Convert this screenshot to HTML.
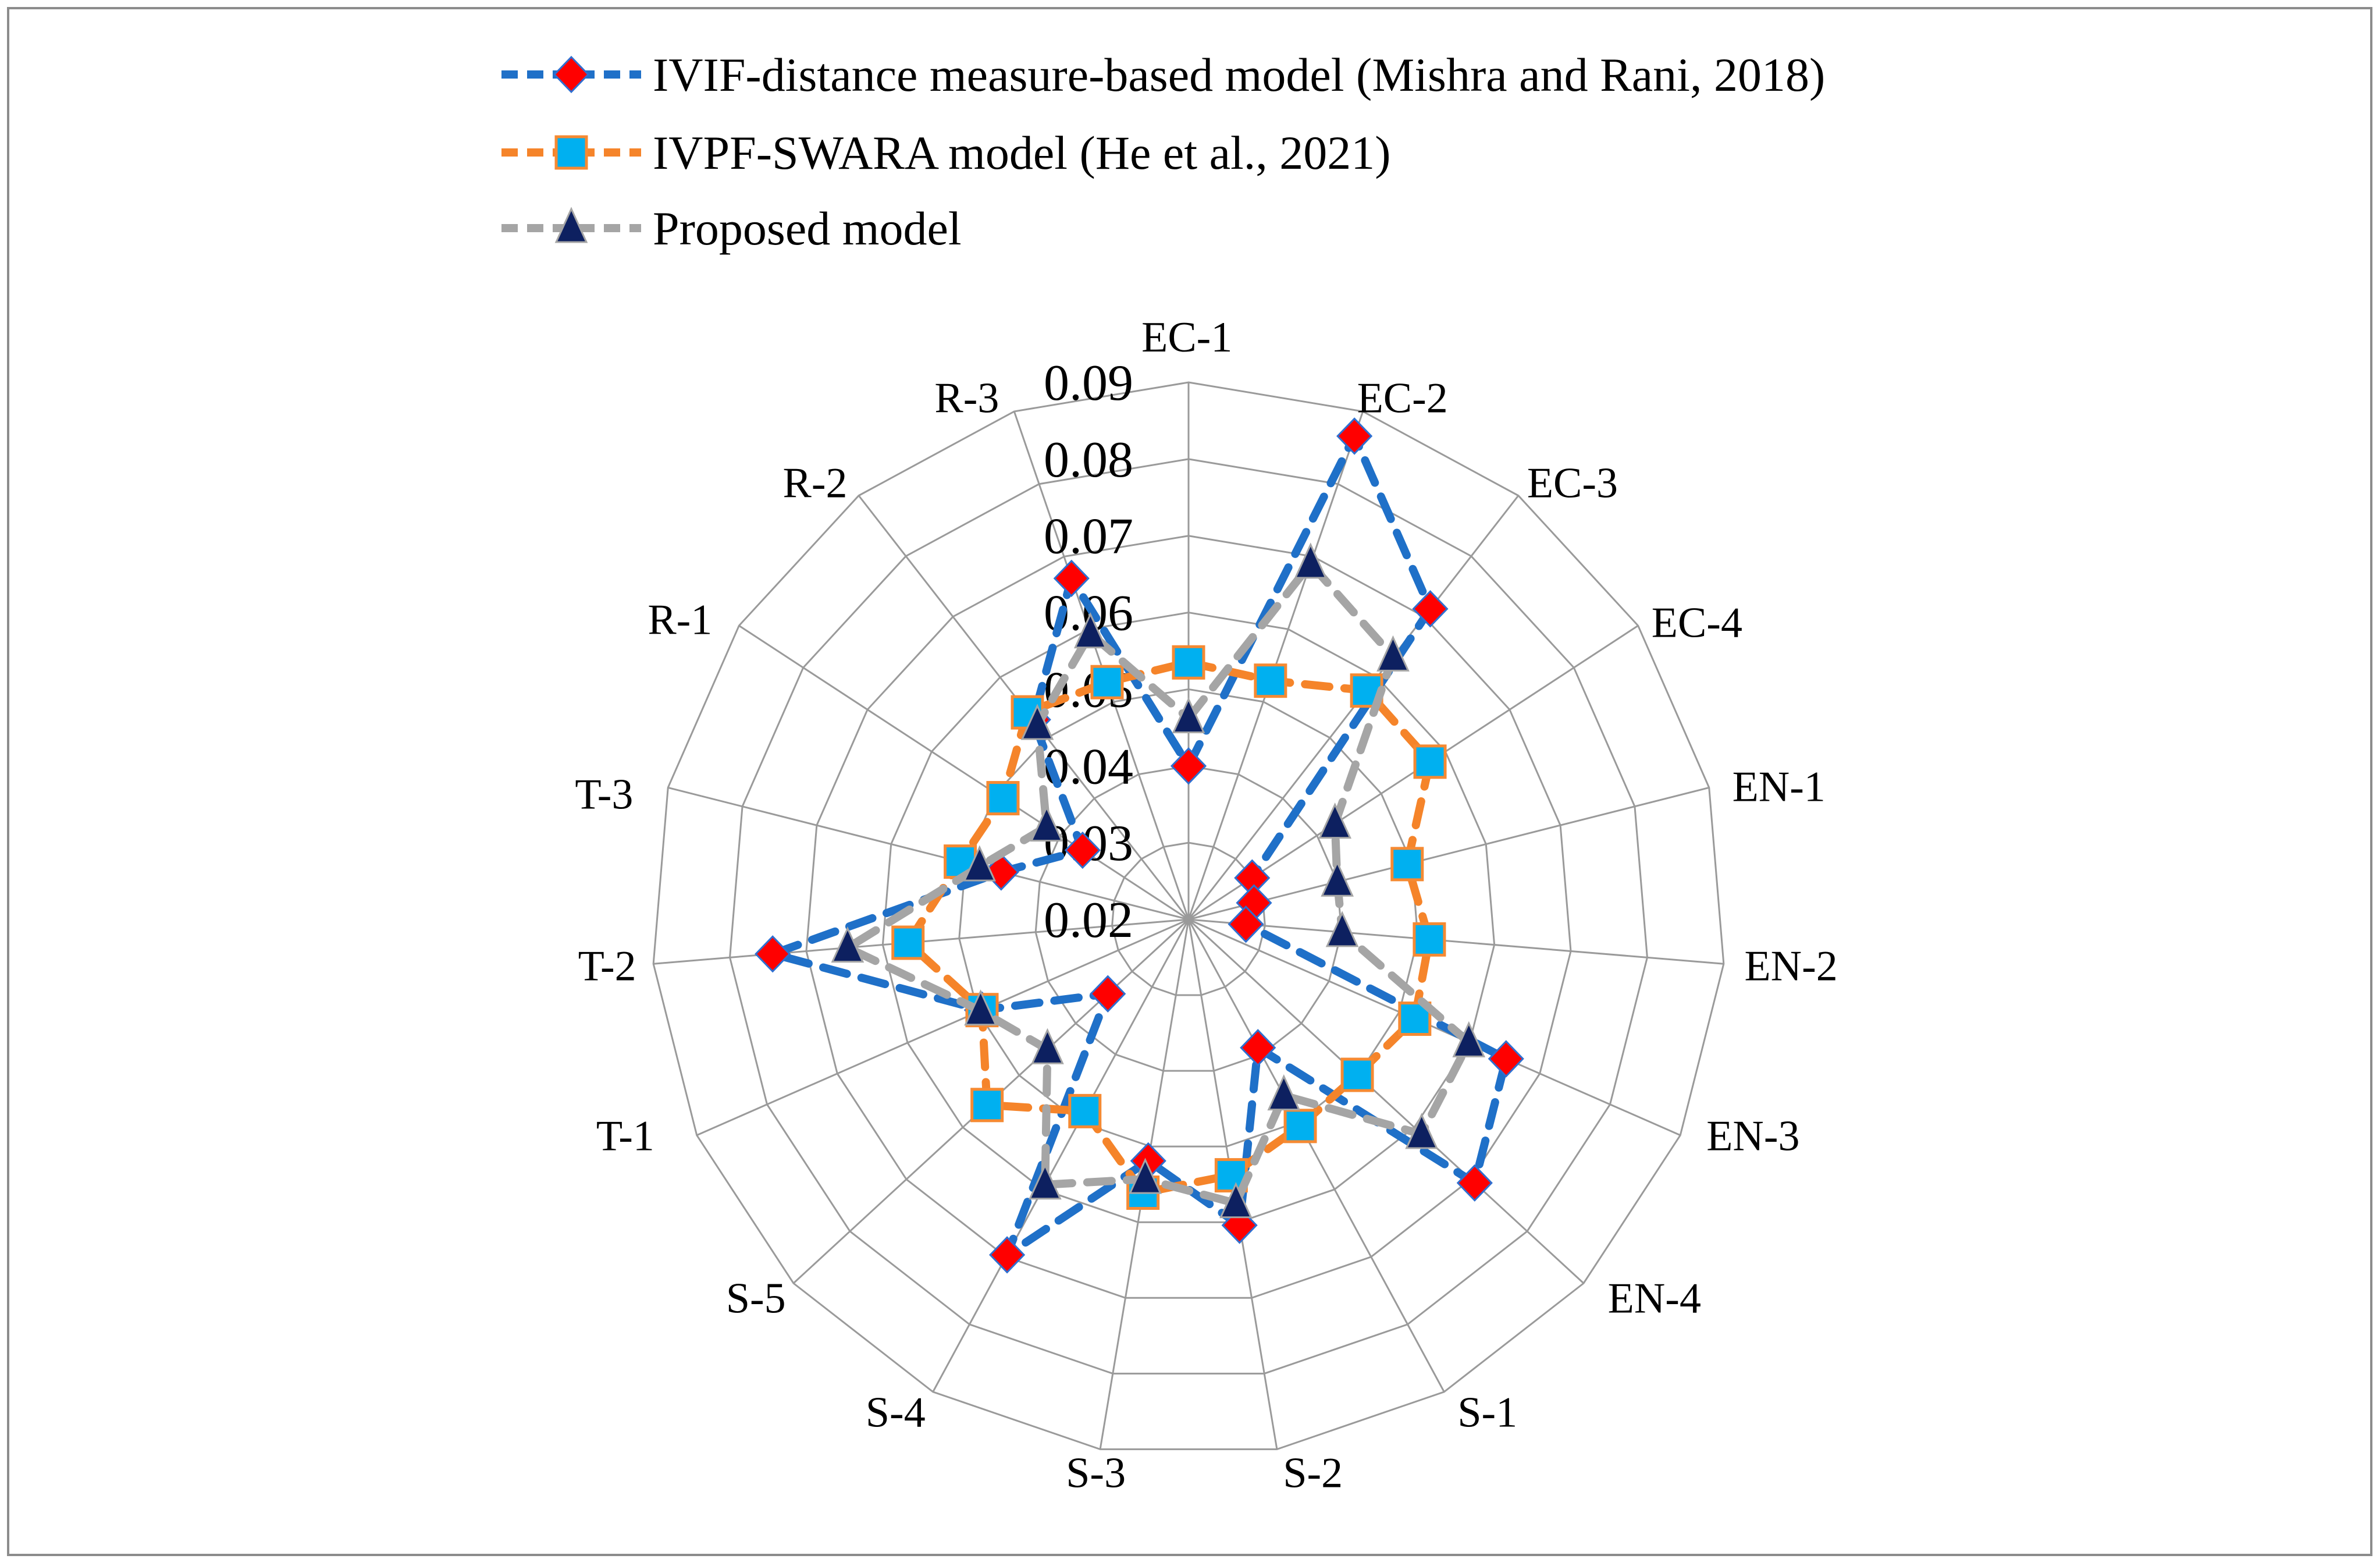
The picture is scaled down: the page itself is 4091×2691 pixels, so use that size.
<!DOCTYPE html>
<html><head><meta charset="utf-8"><style>
html,body{margin:0;padding:0;background:#fff;}
svg{display:block;}
text{font-family:"Liberation Serif",serif;fill:#000;}
</style></head><body>
<svg id="chart" width="4091" height="2691" viewBox="0 0 4091 2691" xmlns="http://www.w3.org/2000/svg">
<rect x="14" y="14" width="4062" height="2658" fill="#fff" stroke="#8c8c8c" stroke-width="4"/>
<g id="grid"></g>
<g id="ticks"></g>
<g id="cats"></g>
<g id="series"></g>
<g id="legend"></g>
</svg>
<script>
const categories = ["EC-1","EC-2","EC-3","EC-4","EN-1","EN-2","EN-3","EN-4","S-1","S-2","S-3","S-4","S-5","T-1","T-2","T-3","R-1","R-2","R-3"];
const ivifValues = [0.040,0.0866,0.0713,0.0299,0.0288,0.0275,0.0652,0.0707,0.039,0.0604,0.0519,0.0697,0.0343,0.0494,0.0744,0.0452,0.0365,0.053,0.067];
const ivpfValues = [0.0535,0.0529,0.0578,0.0576,0.0494,0.0515,0.0522,0.0499,0.0506,0.0538,0.0561,0.0484,0.0557,0.0494,0.0567,0.0507,0.0489,0.0542,0.0527];
const proposedValues = [0.0462,0.069,0.0634,0.0428,0.040,0.0401,0.0599,0.0613,0.0461,0.0575,0.0543,0.0593,0.045,0.0496,0.0646,0.0481,0.0421,0.0521,0.0594];
const tickValues = [0.02,0.03,0.04,0.05,0.06,0.07,0.08,0.09];
const tickLabels = ["0.02","0.03","0.04","0.05","0.06","0.07","0.08","0.09"];
const seriesNames = ["IVIF-distance measure-based model (Mishra and Rani, 2018)","IVPF-SWARA model (He et al., 2021)","Proposed model"];

const NS="http://www.w3.org/2000/svg";
const CX=2043, CY=1580, R=923, VMIN=0.02, VMAX=0.09;
const N=categories.length;
// label box centres (layout, measured from reference, display-scale units)
const labelPos=[[782,222],[924,262],[1036,318],[1118,410],[1172,518],[1180,636],[1155,748],[1090,855],[980,930],[865,970],[722,970],[590,930],[498,855],[412,748],[400,636],[398,523],[448,408],[537,318],[637,262]];
const DS=2.609;
function rScale(v){return (v-VMIN)/(VMAX-VMIN)*R;}
function ang(i){return i*2*Math.PI/N;}
function pt(i,v){const r=rScale(v),a=ang(i);return [CX+r*Math.sin(a),CY-r*Math.cos(a)];}
function mk(tag,attrs,parent){const e=document.createElementNS(NS,tag);for(const k in attrs)e.setAttribute(k,attrs[k]);parent.appendChild(e);return e;}

const grid=document.getElementById('grid');
tickValues.slice(1).forEach((tv,ti)=>{
  const pts=categories.map((c,i)=>pt(i,tv).join(',')).join(' ');
  const p=mk('polygon',{points:pts,fill:'none',stroke:'#9a9a9a','stroke-width':3},grid);
  
  
});
categories.forEach((c,i)=>{
  const [x,y]=pt(i,VMAX);
  const l=mk('line',{x1:CX,y1:CY,x2:x,y2:y,stroke:'#9a9a9a','stroke-width':3},grid);
  
  
});

const ticks=document.getElementById('ticks');
tickValues.forEach((tv,i)=>{
  const t=mk('text',{x:CX-95,y:CY-rScale(tv)+30,'text-anchor':'end','font-size':88},ticks);
  t.textContent=tickLabels[i];
  
  
});

const cats=document.getElementById('cats');
categories.forEach((c,i)=>{
  const x=labelPos[i][0]*DS, y=labelPos[i][1]*DS;
  const t=mk('text',{x:x,y:y+25,'text-anchor':'middle','font-size':74},cats);
  t.textContent=c;
  
  
});

function marker(shape,x,y,parent){
  let e;
  if(shape==='diamond'){
    e=mk('polygon',{points:`${x},${y-30} ${x+29},${y} ${x},${y+30} ${x-29},${y}`,fill:'#ff0000',stroke:'#2f6fd0','stroke-width':3},parent);
  }else if(shape==='square'){
    e=mk('rect',{x:x-26,y:y-27,width:52,height:54,fill:'#00b0f0',stroke:'#f58a33','stroke-width':5},parent);
  }else{
    e=mk('polygon',{points:`${x},${y-33} ${x+26},${y+24} ${x-26},${y+24}`,fill:'#0d2060',stroke:'#a5a5a5','stroke-width':3},parent);
  }
  return e;
}

const seriesDefs=[
  {vals:ivifValues,color:'#1f70c8',shape:'diamond',key:'ivif'},
  {vals:ivpfValues,color:'#f5842a',shape:'square',key:'ivpf'},
  {vals:proposedValues,color:'#a5a5a5',shape:'triangle',key:'proposed'}
];
const sl=document.getElementById('series');
seriesDefs.forEach(s=>{
  const g=mk('g',{},sl);
  
  
  const pts=s.vals.map((v,i)=>pt(i,v).join(',')).join(' ');
  const line=mk('polygon',{points:pts,fill:'none',stroke:s.color,'stroke-width':14,'stroke-dasharray':'42 26','stroke-linecap':'round','stroke-linejoin':'round'},g);
  
  
  s.vals.forEach((v,i)=>{
    const [x,y]=pt(i,v);
    const m=marker(s.shape,x,y,g);
    
    
  });
});

const lg=document.getElementById('legend');
const rowsY=[128,262,392];
seriesDefs.forEach((s,i)=>{
  const g=mk('g',{},lg);
  
  
  const y=rowsY[i];
  mk('line',{x1:862,y1:y,x2:1102,y2:y,stroke:s.color,'stroke-width':14,'stroke-dasharray':'28 16'},g);
  marker(s.shape,982,y,g);
  const t=mk('text',{x:1122,y:y+28,'font-size':82},g);
  t.textContent=seriesNames[i];
  
  
});
</script>
</body></html>
